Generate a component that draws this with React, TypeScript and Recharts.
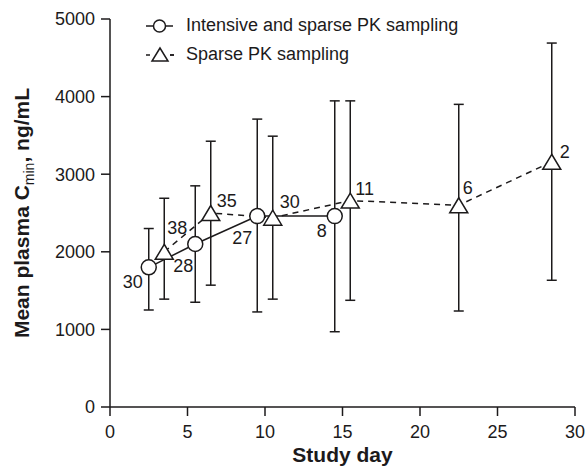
import React from 'react';
import { ComposedChart, Line, XAxis, YAxis, ErrorBar, LabelList, Legend } from 'recharts';

// Intensive and sparse PK sampling (circles, solid line)
const intensiveDays = [2.5, 5.5, 9.5, 14.5];
const intensiveMean = [1800, 2100, 2460, 2460];
const intensiveLow = [1250, 1350, 1225, 970];
const intensiveHigh = [2300, 2850, 3710, 3945];
const intensiveN = [30, 28, 27, 8];

// Sparse PK sampling (triangles, dashed line)
const sparseDays = [3.5, 6.5, 10.5, 15.5, 22.5, 28.5];
const sparseMean = [2000, 2500, 2440, 2660, 2600, 3160];
const sparseLow = [1390, 1570, 1390, 1375, 1237, 1633];
const sparseHigh = [2690, 3425, 3490, 3945, 3900, 4690];
const sparseN = [38, 35, 30, 11, 6, 2];

const xTicks = [0, 5, 10, 15, 20, 25, 30];
const yTicks = [0, 1000, 2000, 3000, 4000, 5000];

const seriesNames = ['Intensive and sparse PK sampling', 'Sparse PK sampling'];

// label nudges (styling only, pixels relative to each marker)
const circleLabelNudge = [
  [-6, 21],
  [-2, 28],
  [-5, 28],
  [-8, 21],
];
const triLabelNudge = [
  [3, -18],
  [6, -6],
  [7, -10],
  [5, -6],
  [4, -11],
  [8, -4],
];

const build = (days: number[], mean: number[], low: number[], high: number[], n: number[]) =>
  days.map((d, i) => ({ day: d, mean: mean[i], err: [mean[i] - low[i], high[i] - mean[i]], n: n[i] }));

const intensiveData = build(intensiveDays, intensiveMean, intensiveLow, intensiveHigh, intensiveN);
const sparseData = build(sparseDays, sparseMean, sparseLow, sparseHigh, sparseN);

const INK = '#1c1a1b';
const FONT = '"Liberation Sans", Arial, sans-serif';

const CircleDot = (props: any) => {
  const { cx, cy, index } = props;
  if (cx == null || cy == null) return <g key={`c${index}`} />;
  return <circle key={`c${index}`} cx={cx} cy={cy} r={7.5} fill="#fff" stroke={INK} strokeWidth={1.5} />;
};

const TriDot = (props: any) => {
  const { cx, cy, index } = props;
  if (cx == null || cy == null) return <g key={`t${index}`} />;
  const pts = `${cx},${cy - 7.5} ${cx - 9},${cy + 7.5} ${cx + 9},${cy + 7.5}`;
  return <polygon key={`t${index}`} points={pts} fill="#fff" stroke={INK} strokeWidth={1.5} />;
};

const CircleLabel = (props: any) => {
  const { x, y, value, index } = props;
  const [dx, dy] = circleLabelNudge[index] || [-5, 25];
  return (
    <text x={x + dx} y={y + dy} textAnchor="end" fontSize={18} fontFamily={FONT} fill={INK}>
      {value}
    </text>
  );
};

const TriLabel = (props: any) => {
  const { x, y, value, index } = props;
  const [dx, dy] = triLabelNudge[index] || [6, -9];
  return (
    <text x={x + dx} y={y + dy} textAnchor="start" fontSize={18} fontFamily={FONT} fill={INK}>
      {value}
    </text>
  );
};

const YTitle = (props: any) => {
  const vb = props.viewBox || { x: 0, y: 0, width: 0, height: 0 };
  const cx = vb.x + 29;
  const cy = vb.y + vb.height / 2;
  return (
    <text
      x={cx}
      y={cy}
      transform={`rotate(-90, ${cx}, ${cy})`}
      textAnchor="middle"
      fontFamily={FONT}
      fontWeight="bold"
      fontSize={21}
      fill={INK}
    >
      <tspan>Mean plasma C</tspan>
      <tspan fontSize={14} fontWeight="normal" dy={5}>min</tspan>
      <tspan dy={-5}>, ng/mL</tspan>
    </text>
  );
};

const XTitle = (props: any) => {
  const vb = props.viewBox || { x: 0, y: 0, width: 0, height: 0 };
  return (
    <text
      x={vb.x + vb.width / 2}
      y={vb.y + 55}
      textAnchor="middle"
      fontFamily={FONT}
      fontWeight="bold"
      fontSize={21}
      fill={INK}
    >
      Study day
    </text>
  );
};

const LegendBox = () => (
  <div style={{ fontFamily: FONT, fontSize: 18, color: INK, lineHeight: '29px' }}>
    <div style={{ display: 'flex', alignItems: 'center', height: 29 }}>
      <svg width={40} height={20} style={{ display: 'block' }}>
        <line x1={0} y1={10} x2={27} y2={10} stroke={INK} strokeWidth={1.5} />
        <circle cx={13.5} cy={10} r={6} fill="#fff" stroke={INK} strokeWidth={1.5} />
      </svg>
      <span>{seriesNames[0]}</span>
    </div>
    <div style={{ display: 'flex', alignItems: 'center', height: 29 }}>
      <svg width={40} height={20} style={{ display: 'block' }}>
        <line x1={0} y1={10} x2={28} y2={10} stroke={INK} strokeWidth={1.5} strokeDasharray="4 20" />
        <line x1={24} y1={10} x2={28} y2={10} stroke={INK} strokeWidth={1.5} />
        <polygon points="14,3 6,16 22,16" fill="#fff" stroke={INK} strokeWidth={1.5} />
      </svg>
      <span>{seriesNames[1]}</span>
    </div>
  </div>
);

const tickStyle = { fontSize: 18, fontFamily: FONT, fill: INK };

export default function App() {
  return (
    <div style={{ position: 'absolute', left: 0, top: 0, width: 587, height: 467, background: '#fff' }}>
      <ComposedChart width={587} height={467} margin={{ top: 19, right: 12, bottom: 0, left: 0 }}>
        <XAxis
          type="number"
          dataKey="day"
          domain={[0, 30]}
          ticks={xTicks}
          interval={0}
          height={60}
          tickSize={9}
          tickMargin={9}
          tick={tickStyle}
          axisLine={{ stroke: INK, strokeWidth: 1.5 }}
          tickLine={{ stroke: INK, strokeWidth: 1.5 }}
          allowDataOverflow
          label={{ content: (p: any) => <XTitle {...p} /> }}
        />
        <YAxis
          type="number"
          domain={[0, 5000]}
          ticks={yTicks}
          interval={0}
          width={110}
          tickSize={9}
          tickMargin={6}
          tick={tickStyle}
          axisLine={{ stroke: INK, strokeWidth: 1.5 }}
          tickLine={{ stroke: INK, strokeWidth: 1.5 }}
          allowDataOverflow
          label={{ content: (p: any) => <YTitle {...p} /> }}
        />
        <Legend
          layout="vertical"
          align="center"
          verticalAlign="middle"
          content={() => <LegendBox />}
          wrapperStyle={{ top: 11, left: 146, width: 'auto', height: 'auto' }}
        />
        <Line
          data={intensiveData}
          dataKey="mean"
          name={seriesNames[0]}
          stroke={INK}
          strokeWidth={1.5}
          dot={CircleDot}
          activeDot={false}
          isAnimationActive={false}
        >
          <ErrorBar dataKey="err" direction="y" width={5} stroke={INK} strokeWidth={1.5} isAnimationActive={false} />
          <LabelList dataKey="n" content={CircleLabel} />
        </Line>
        <Line
          data={sparseData}
          dataKey="mean"
          name={seriesNames[1]}
          stroke={INK}
          strokeWidth={1.5}
          strokeDasharray="6 5"
          dot={TriDot}
          activeDot={false}
          isAnimationActive={false}
        >
          <ErrorBar dataKey="err" direction="y" width={5} stroke={INK} strokeWidth={1.5} isAnimationActive={false} />
          <LabelList dataKey="n" content={TriLabel} />
        </Line>
      </ComposedChart>
    </div>
  );
}
